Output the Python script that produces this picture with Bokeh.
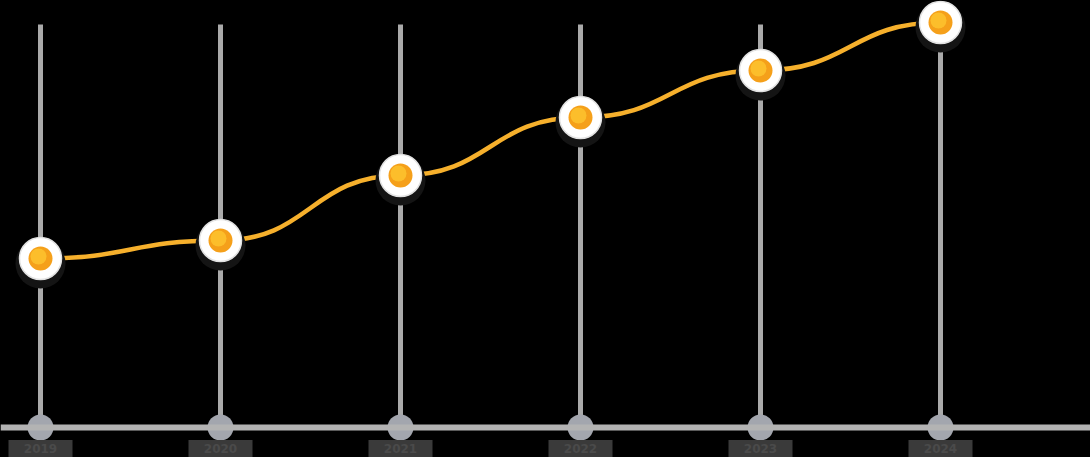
from bokeh.plotting import figure
from bokeh.models import Range1d, Span, ColumnDataSource, GlobalInlineStyleSheet
from bokeh.core.properties import value
from bokeh.embed import file_html
from bokeh.resources import INLINE

# chart data
labels = ["2019", "2020", "2021", "2022", "2023", "2024"]
values = [42.25, 46.75, 63, 77.5, 89.25, 101.25]
xs = list(range(len(labels)))

# pixel helpers (1 x unit = 180 px, 1 y unit = 4 px)
PX_X = 1 / 180
PX_Y = 1 / 4
W, H = 1090, 457

p = figure(width=W, height=H, output_backend="svg", toolbar_location=None,
           x_range=Range1d(-40 * PX_X, (W - 40) * PX_X),
           y_range=Range1d(-(H - 427) * PX_Y, 427 * PX_Y), min_border=0)
p.axis.visible = False
p.grid.visible = False
p.outline_line_color = None
p.background_fill_color = "#000000"
p.border_fill_color = "#000000"
p.stylesheets = [GlobalInlineStyleSheet(css="body { background: #000000; }")]

# vertical guide lines up to the top point
top = max(values) - 0.5
p.segment(x0=xs, y0=[0] * len(xs), x1=xs, y1=[top] * len(xs),
          line_color="#aaaaaa", line_width=5)

# baseline
p.add_layout(Span(location=0, dimension="width", line_color="#b3b3b3", line_width=6))

# base markers
p.scatter(xs, [0] * len(xs), size=26, fill_color="#a3a6ae", line_color=None)

# labels under the baseline (dark tag with text)
label_y = [-21 * PX_Y] * len(xs)
src = ColumnDataSource(dict(x=xs, y=label_y, t=labels))
p.rect(x="x", y="y", width=64, height=17, width_units="screen", height_units="screen",
       source=src, fill_color="#3a3a3a", line_color=None)
p.text(x="x", y="y", text="t", source=src, text_align="center",
       text_baseline="middle", text_font=value("DejaVu Sans"), text_font_size="12px",
       text_font_style="bold", text_color="#4a4a4a")

# smooth line between points
x0, y0, x1, y1, cx0, cy0, cx1, cy1 = [], [], [], [], [], [], [], []
for i in range(len(xs) - 1):
    x0.append(xs[i]); y0.append(values[i])
    x1.append(xs[i + 1]); y1.append(values[i + 1])
    cx0.append(xs[i] + 0.5); cy0.append(values[i])
    cx1.append(xs[i + 1] - 0.5); cy1.append(values[i + 1])
p.bezier(x0=x0, y0=y0, x1=x1, y1=y1, cx0=cx0, cy0=cy0, cx1=cx1, cy1=cy1,
         line_color="#f6b02c", line_width=4.5)

# point markers: shadow, white ring, orange core
p.scatter(xs, [v - 5 * PX_Y for v in values], size=50, fill_color="#141414", line_color=None)
p.scatter(xs, values, size=42, fill_color="#ffffff", line_color="#e2e2e2", line_width=1.5)
p.scatter(xs, values, size=24, fill_color="#f5a01a", line_color=None)
p.scatter([x - 2 * PX_X for x in xs], [v + 2 * PX_Y for v in values], size=16,
          fill_color="#fdc12e", line_color=None, fill_alpha=0.9)

open("out.html", "w").write(file_html(p, INLINE))
